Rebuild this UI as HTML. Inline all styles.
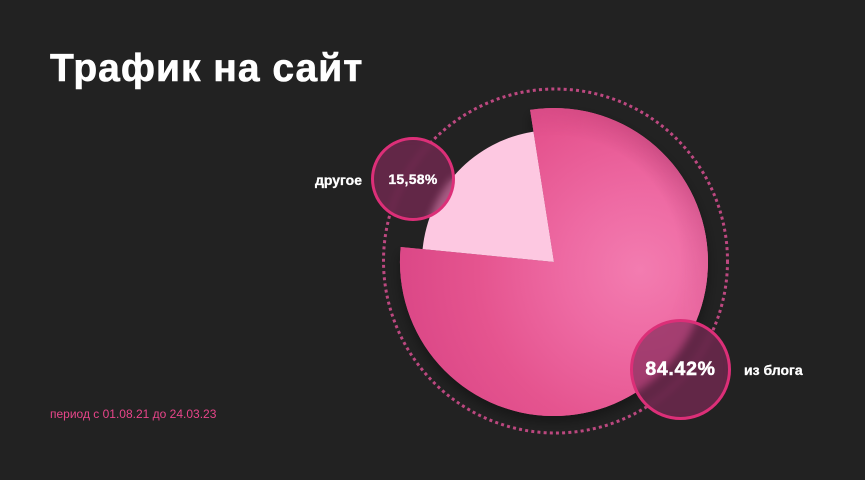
<!DOCTYPE html>
<html>
<head>
<meta charset="utf-8">
<style>
  html, body { margin:0; padding:0; }
  body { width:865px; height:480px; background:#222222; position:relative; overflow:hidden;
         font-family:"Liberation Sans", "Noto Sans CJK SC", sans-serif; }
  .title { position:absolute; left:50px; top:48.5px; font-size:39px; font-weight:bold; color:#ffffff;
           letter-spacing:1px; white-space:nowrap; line-height:40px;
           -webkit-text-stroke:0.6px #ffffff; }
  .period { position:absolute; left:50px; top:406px; font-size:12px; color:#e8458a; white-space:nowrap; line-height:16px; }
  svg { position:absolute; left:0; top:0; }
  .bubble { position:absolute; border-radius:50%; box-sizing:border-box; border:3.5px solid #dc2f78;
            background:rgba(128,42,88,0.68); backdrop-filter:blur(4px); -webkit-backdrop-filter:blur(4px);
            color:#fff; font-weight:bold; display:flex; align-items:center; justify-content:center; white-space:nowrap;
            -webkit-text-stroke:0.3px #fff; }
  .b1 { left:371px; top:137px; width:84px; height:84px; font-size:14px; letter-spacing:0.3px; }
  .b2 { left:630px; top:319px; width:101px; height:101px; font-size:19.5px; letter-spacing:0.7px; -webkit-text-stroke:0.5px #fff; }
  .lbl { position:absolute; color:#fff; font-weight:bold; white-space:nowrap; font-size:14px; line-height:18px;
         -webkit-text-stroke:0.3px #fff; }
</style>
</head>
<body>
<svg width="865" height="480" viewBox="0 0 865 480" xmlns="http://www.w3.org/2000/svg">
  <defs>
    <radialGradient id="g1" gradientUnits="userSpaceOnUse" cx="640" cy="270" r="250">
      <stop offset="0" stop-color="#f37cb0"/>
      <stop offset="0.3" stop-color="#ee6aa3"/>
      <stop offset="0.65" stop-color="#e5548f"/>
      <stop offset="1" stop-color="#da4686"/>
    </radialGradient>
    <radialGradient id="rim" gradientUnits="userSpaceOnUse" cx="554" cy="262" r="154">
      <stop offset="0.82" stop-color="#7a1a48" stop-opacity="0"/>
      <stop offset="1" stop-color="#7a1a48" stop-opacity="0.28"/>
    </radialGradient>
    <radialGradient id="rimmask" gradientUnits="userSpaceOnUse" cx="680" cy="140" r="200">
      <stop offset="0" stop-color="#fff" stop-opacity="1"/>
      <stop offset="1" stop-color="#fff" stop-opacity="0"/>
    </radialGradient>
    <mask id="m1"><rect x="0" y="0" width="865" height="480" fill="url(#rimmask)"/></mask>
    <filter id="sh" x="-20%" y="-20%" width="140%" height="140%">
      <feDropShadow dx="0" dy="6" stdDeviation="6" flood-color="#000" flood-opacity="0.35"/>
    </filter>
  </defs>
  <circle cx="555.5" cy="261" r="172" fill="none" stroke="#bd4880" stroke-width="3" stroke-dasharray="3 3.2"/>
  <g filter="url(#sh)">
    <path d="M554,262 L530.1,109.9 A154,154 0 1 1 400.7,247 Z" fill="url(#g1)"/>
  </g>
  <path d="M554,262 L422.6,249.1 A132,132 0 0 1 533.5,131.6 Z" fill="#fdc8e1"/>
  <path d="M554,262 L530.1,109.9 A154,154 0 1 1 400.7,247 Z" fill="url(#g1)"/>
  <path d="M554,262 L530.1,109.9 A154,154 0 1 1 400.7,247 Z" fill="url(#rim)" mask="url(#m1)"/>
</svg>
<div class="title">Трафик на сайт</div>
<div class="lbl" style="left:315px; top:171px;">другое</div>
<div class="bubble b1">15,58%</div>
<div class="bubble b2">84.42%</div>
<div class="lbl" style="left:744px; top:361px;">из блога</div>
<div class="period">период с 01.08.21 до 24.03.23</div>
</body>
</html>
